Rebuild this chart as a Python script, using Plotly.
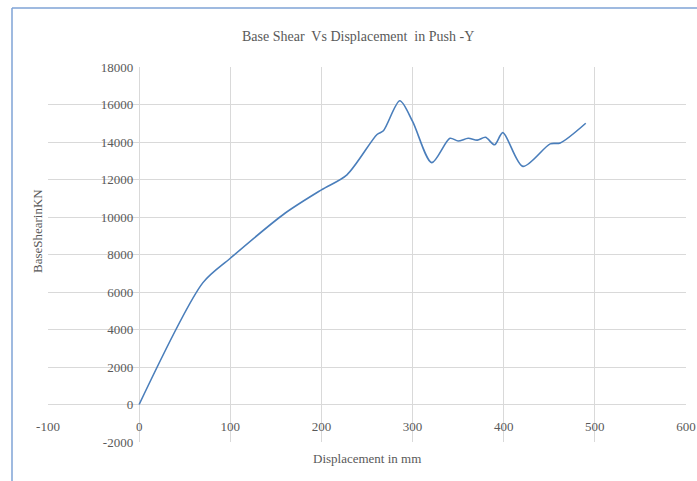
import plotly.graph_objects as go

# Data
disp = [0, 70, 100, 160, 200, 228, 261, 268, 286, 300, 321, 341, 350, 361, 371, 380, 390, 399, 421, 451, 462, 490]
shear = [0, 6500, 7800, 10200, 11450, 12250, 14400, 14600, 16200, 15100, 12900, 14200, 14050, 14200, 14100, 14250, 13850, 14500, 12700, 13900, 13950, 15000]
x_ticks = [-100, 0, 100, 200, 300, 400, 500, 600]
y_ticks = [-2000, 0, 2000, 4000, 6000, 8000, 10000, 12000, 14000, 16000, 18000]

W, H = 697, 481
ml, mr, mt, mb = 48, 11, 67, 39
pw, ph = W - ml - mr, H - mt - mb
FONT = "Times New Roman, Liberation Serif, DejaVu Serif, serif"

def px(x):
    return (x - ml) / pw

def py(y):
    return (H - mb - y) / ph

fig = go.Figure(go.Scatter(
    x=disp, y=shear, mode="lines",
    line=dict(color="#4a7ebb", width=1.6, shape="spline", smoothing=0.8),
    hoverinfo="skip",
))

fig.update_layout(
    width=W, height=H,
    margin=dict(l=ml, r=mr, t=mt, b=mb, autoexpand=False),
    paper_bgcolor="white", plot_bgcolor="white",
    showlegend=False,
    font=dict(family=FONT, color="#595959", size=13),
)

xr = [-100, 600]
yr = [-2000, 18000]
fig.update_xaxes(
    range=xr, tickvals=x_ticks, ticktext=[str(v) for v in x_ticks],
    showgrid=True, gridcolor="#d9d9d9", gridwidth=1,
    zeroline=False, showline=False, ticks="", automargin=False,
    anchor="free", position=(0 - yr[0]) / (yr[1] - yr[0]),
    ticklabelstandoff=12,
    tickfont=dict(family=FONT, size=13, color="#595959"),
)
fig.update_yaxes(
    range=yr, tickvals=y_ticks, ticktext=[str(v) for v in y_ticks],
    showgrid=True, gridcolor="#d9d9d9", gridwidth=1,
    zeroline=False, showline=False, ticks="", automargin=False,
    anchor="free", position=(0 - xr[0]) / (xr[1] - xr[0]),
    ticklabelstandoff=6,
    tickfont=dict(family=FONT, size=13, color="#595959"),
)

fig.add_annotation(text="Base Shear  Vs Displacement  in Push -Y", xref="paper", yref="paper",
                   x=px(358), y=py(37), showarrow=False, font=dict(family=FONT, size=14, color="#595959"),
                   xanchor="center", yanchor="middle")
fig.add_annotation(text="Displacement in mm", xref="paper", yref="paper",
                   x=px(367), y=py(458), showarrow=False, font=dict(family=FONT, size=13, color="#595959"),
                   xanchor="center", yanchor="middle")
fig.add_annotation(text="BaseShearinKN", xref="paper", yref="paper",
                   x=px(37), y=py(231), showarrow=False, textangle=-90,
                   font=dict(family=FONT, size=13, color="#595959"), xanchor="center", yanchor="middle")

# chart frame (partially visible)
fig.add_shape(type="line", xref="paper", yref="paper", x0=px(12), y0=py(8), x1=px(700), y1=py(8),
              line=dict(color="#7fa3d6", width=1.5))
fig.add_shape(type="line", xref="paper", yref="paper", x0=px(12), y0=py(8), x1=px(12), y1=py(490),
              line=dict(color="#7fa3d6", width=1.5))

fig.write_html("out.html")
